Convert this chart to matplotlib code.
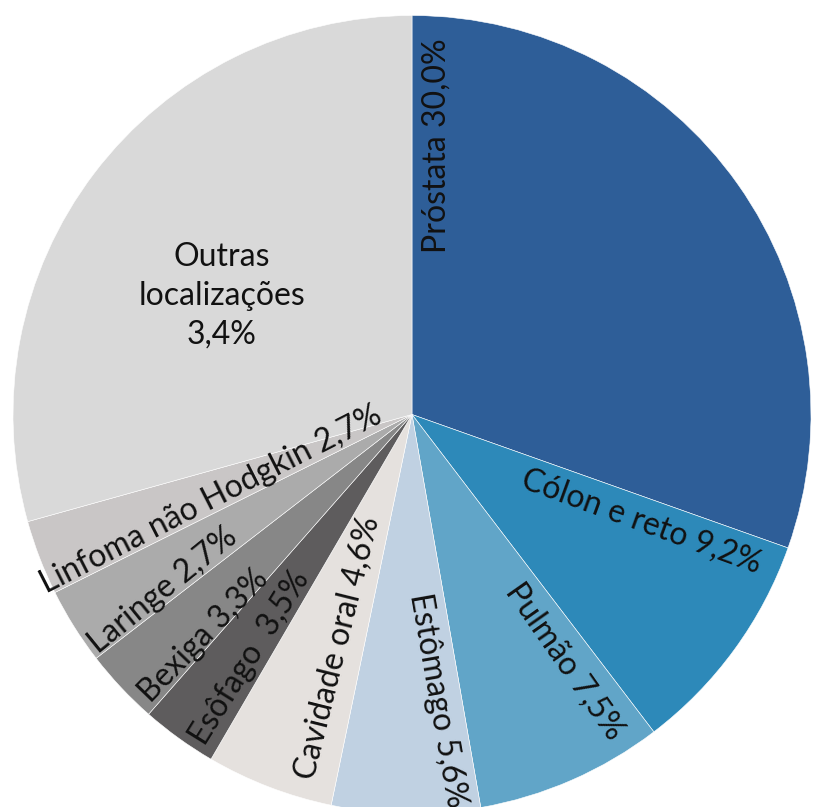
import numpy as np
import matplotlib
matplotlib.use("Agg")
import matplotlib.pyplot as plt

# ---- data ----
categories = ["Próstata", "Cólon e reto", "Pulmão", "Estômago", "Cavidade oral",
              "Esôfago", "Bexiga", "Laringe", "Linfoma não Hodgkin", "Outras localizações"]
# slice sizes as drawn in the picture (percent)
sizes = [30.4, 9.2, 7.6, 6.0, 5.15, 3.07, 3.06, 3.1, 3.03, 29.3]
# printed labels
label_texts = ["Próstata 30,0%", "Cólon e reto 9,2%", "Pulmão 7,5%", "Estômago 5,6%",
               "Cavidade oral 4,6%", "Esôfago  3,5%", "Bexiga 3,3%", "Laringe 2,7%",
               "Linfoma não Hodgkin 2,7%", "Outras\nlocalizações\n3,4%"]
colors = ["#2E5E98", "#2D89B9", "#61A5C8", "#C0D1E2", "#E5E1DE",
          "#5E5C5D", "#878787", "#ABABAB", "#C9C6C6", "#D9D9D9"]

# label layout: (angle clockwise from top in degrees, distance from centre in px, rotation)
label_layout = [(5.3, 270, 90), (115.1, 253, -20), (148.3, 290, -55), (174.8, 287, -80),
                (197.8, 245, 76), (213.6, 292, 58), (223.3, 304, 46), (234.7, 305, 39),
                (246.9, 218, 27), (302.0, 224, 0)]

W, H = 814, 807
fig = plt.figure(figsize=(W / 100, H / 100), dpi=100)
ax = fig.add_axes([0, 0, 1, 1])
cx, cy, R = 412.0, H - 414.5, 399.0

ax.pie(sizes, colors=colors, startangle=90, counterclock=False, center=(cx, cy),
       radius=R, wedgeprops=dict(edgecolor="white", linewidth=0.4))
ax.set_xlim(0, W)
ax.set_ylim(0, H)
ax.set_aspect("equal")
ax.axis("off")

for txt, (ang, dist, rot) in zip(label_texts, label_layout):
    t = np.deg2rad(ang)
    x = cx + dist * np.sin(t)
    y = cy + dist * np.cos(t)
    ax.text(x, y, txt, rotation=rot, rotation_mode="anchor", ha="center", va="center",
            fontsize=23, family=["Lato", "DejaVu Sans"], color="#111111",
            linespacing=1.35)

fig.savefig("out.png", dpi=100)
